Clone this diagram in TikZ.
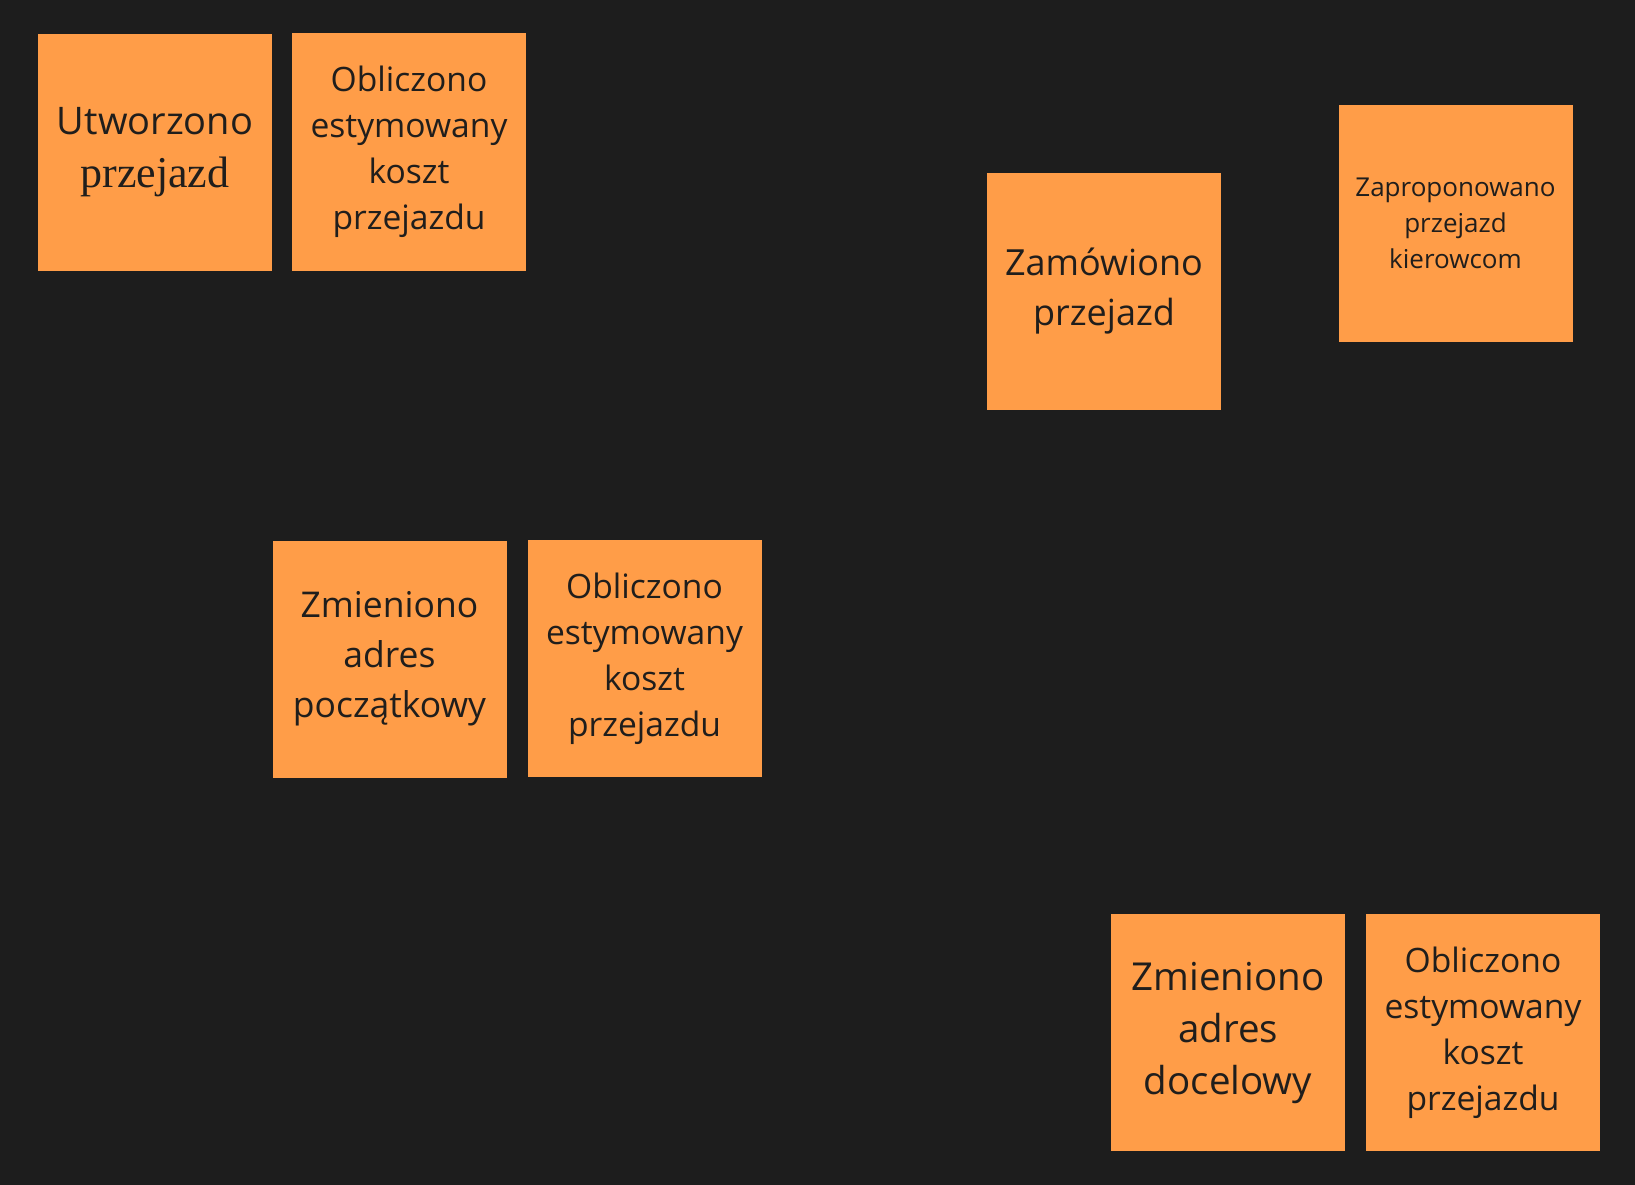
\documentclass[tikz,border=0pt]{standalone}
\usepackage{fontspec}
\setmainfont{Open Sans}
\newfontfamily\serifalt{Liberation Serif}
\definecolor{boardbg}{RGB}{29,29,29}
\definecolor{stickyorange}{RGB}{255,157,72}
\definecolor{inkdark}{RGB}{32,30,28}
\begin{document}
\begin{tikzpicture}[x=1pt,y=-1pt,
        note/.style={fill=stickyorange,text=inkdark,minimum width=234pt,minimum height=237pt,
          inner sep=0pt,text width=230pt,align=center},
        ]
        \path [fill=boardbg] (0,0) rectangle (1635,1185);
        \node[note,font=\fontsize{38}{53}\selectfont] (created) at (155,152.5) {Utworzono\\{\serifalt\fontsize{44}{53}\selectfont przejazd}};
        \node[note,font=\fontsize{33.6}{46}\selectfont] (estimate1) at (409,152) {Obliczono\\estymowany\\koszt\\przejazdu};
        \node[note,font=\fontsize{36}{50}\selectfont] (ordered) at (1104,291.5) {Zamówiono\\przejazd};
        \node[note,font=\fontsize{26}{36}\selectfont] (proposed) at (1455.5,223.5) {Zaproponowano\\przejazd\\kierowcom};
        \node[note,font=\fontsize{35.5}{50}\selectfont] (startchanged) at (389.5,659) {Zmieniono\\adres\\początkowy};
        \node[note,font=\fontsize{33.6}{46}\selectfont] (estimate2) at (644.5,658.5) {Obliczono\\estymowany\\koszt\\przejazdu};
        \node[note,font=\fontsize{38.5}{52}\selectfont] (endchanged) at (1228,1032.5) {Zmieniono\\adres\\docelowy};
        \node[note,font=\fontsize{33.6}{46}\selectfont] (estimate3) at (1483,1032.5) {Obliczono\\estymowany\\koszt\\przejazdu};
      \end{tikzpicture}
\end{document}
